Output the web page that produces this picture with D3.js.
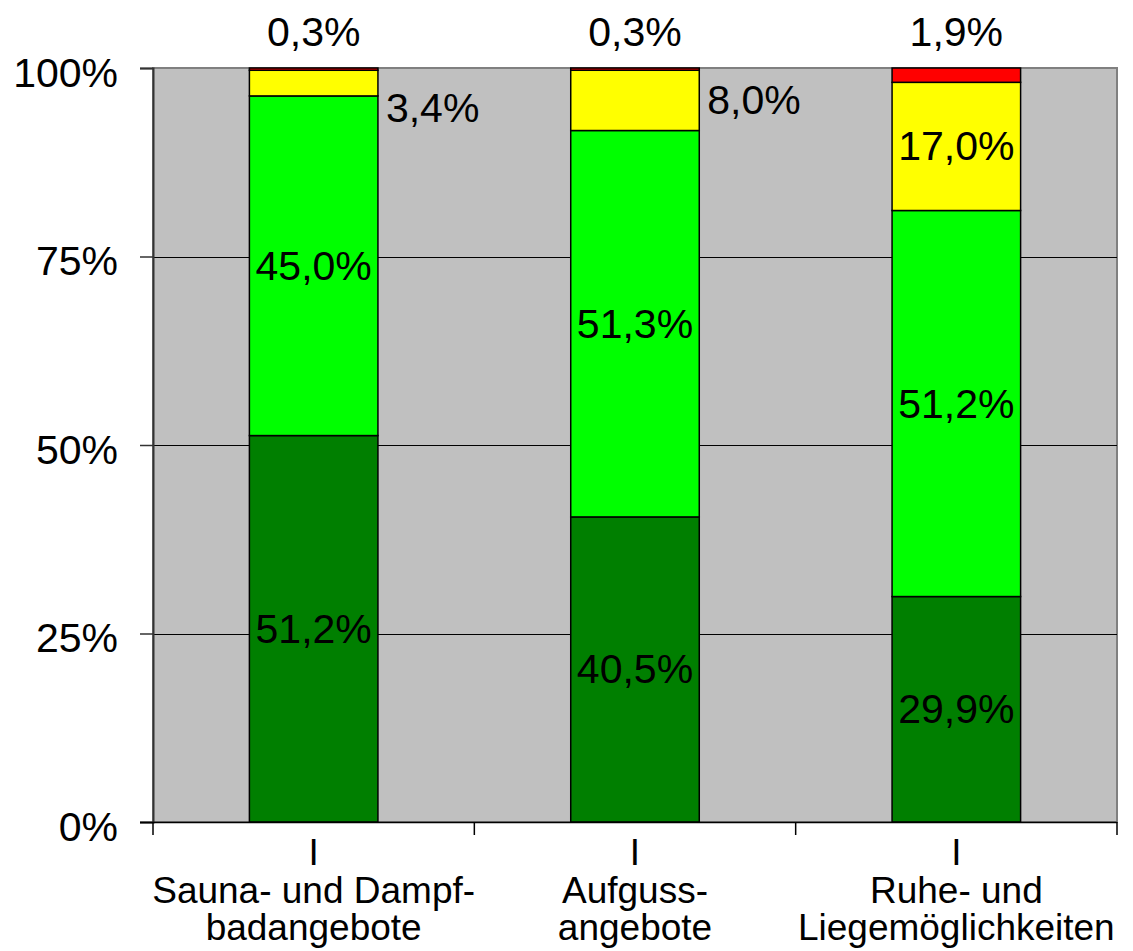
<!DOCTYPE html>
<html>
<head>
<meta charset="utf-8">
<script src="https://cdn.jsdelivr.net/npm/d3@7"></script>
<style>
  body { margin: 0; background: #fff; }
  text { font-family: "Liberation Sans", Arial, sans-serif; fill: #000; }
</style>
</head>
<body>
<svg id="chart" width="1133" height="951"></svg>
<script>
// categories (each label split into lines)
const categories = ["Sauna- und Dampfbadangebote", "Aufgussangebote", "Ruhe- und Liegemöglichkeiten"];
const categoryLines = [
  ["I", "Sauna- und Dampf-", "badangebote"],
  ["I", "Aufguss-", "angebote"],
  ["I", "Ruhe- und", "Liegemöglichkeiten"]
];
// series values, bottom to top
const seriesNames = ["sehr gut", "gut", "weniger gut", "schlecht"];
const seriesColors = ["#007f00", "#00ff00", "#ffff00", "#ff0000"];
const sehrGut = [51.2, 40.5, 29.9];
const gut = [45.0, 51.3, 51.2];
const wenigerGut = [3.4, 8.0, 17.0];
const schlecht = [0.3, 0.3, 1.9];
const yTicks = [0, 25, 50, 75, 100];

const svg = d3.select("#chart");
const pLeft = 153, pRight = 1117, pTop = 68, pBottom = 822;
const labelSize = 41;

const x = d3.scaleBand().domain(categories).range([pLeft, pRight]).paddingInner(0.6).paddingOuter(0.3);
const y = d3.scaleLinear().domain([0, 100]).range([pBottom, pTop]);

// stacked table, normalised to 100 %
const table = categories.map((c, i) => {
  const row = { cat: c, i };
  const vals = [sehrGut[i], gut[i], wenigerGut[i], schlecht[i]];
  const sum = d3.sum(vals);
  seriesNames.forEach((s, k) => { row[s] = vals[k] / sum * 100; row[s + "_raw"] = vals[k]; });
  return row;
});
const stack = d3.stack().keys(seriesNames)(table);

// plot background
svg.append("rect").attr("x", pLeft).attr("y", pTop).attr("width", pRight - pLeft).attr("height", pBottom - pTop)
  .attr("fill", "#c0c0c0").attr("stroke", "#808080").attr("stroke-width", 2);

// gridlines
svg.append("g").selectAll("line").data(yTicks.filter(t => t > 0 && t < 100)).join("line")
  .attr("x1", pLeft).attr("x2", pRight).attr("y1", d => Math.round(y(d)) + 0.5).attr("y2", d => Math.round(y(d)) + 0.5)
  .attr("stroke", "#000").attr("stroke-width", 1);

// bars
const fmt = v => v.toFixed(1).replace(".", ",") + "%";
stack.forEach((layer, k) => {
  svg.append("g").selectAll("rect").data(layer).join("rect")
    .attr("x", d => x(d.data.cat))
    .attr("width", x.bandwidth())
    .attr("y", d => y(d[1]))
    .attr("height", d => y(d[0]) - y(d[1]))
    .attr("fill", seriesColors[k])
    .attr("stroke", "#000").attr("stroke-width", 1.5);
});

// y axis
const yAxis = svg.append("g").attr("transform", `translate(${pLeft},0)`)
  .call(d3.axisLeft(y).tickValues(yTicks).tickSize(13).tickPadding(22).tickFormat(d => d + "%"));
yAxis.select(".domain").attr("stroke", "#333").attr("stroke-width", 2);
yAxis.selectAll(".tick line").attr("stroke", "#333").attr("stroke-width", 1.5);
yAxis.selectAll("text").attr("font-size", labelSize).attr("dy", "0.45em")
  .attr("font-family", "Liberation Sans, Arial, sans-serif").attr("fill", "#000");

// x axis line with ticks between categories
const sep = d3.range(categories.length + 1).map(i => pLeft + i * (pRight - pLeft) / categories.length);
svg.append("line").attr("x1", pLeft - 13).attr("x2", pRight).attr("y1", pBottom + 0.5).attr("y2", pBottom + 0.5)
  .attr("stroke", "#000").attr("stroke-width", 1.5);
svg.append("g").selectAll("line").data(sep).join("line")
  .attr("x1", d => d).attr("x2", d => d).attr("y1", pBottom).attr("y2", pBottom + 13)
  .attr("stroke", "#000").attr("stroke-width", 1.5);

// category labels
categories.forEach((c, i) => {
  const cx = x(c) + x.bandwidth() / 2;
  const t = svg.append("text").attr("text-anchor", "middle").attr("font-size", 37);
  categoryLines[i].forEach((line, j) => {
    t.append("tspan").attr("x", cx).attr("y", 865 + (j === 0 ? 0 : 38 + (j - 1) * 37)).text(line);
  });
});

// value labels
stack.forEach((layer, k) => {
  layer.forEach(d => {
    const raw = d.data[seriesNames[k] + "_raw"];
    const cx = x(d.data.cat) + x.bandwidth() / 2;
    const mid = (y(d[0]) + y(d[1])) / 2;
    const h = y(d[0]) - y(d[1]);
    let tx = cx, ty = mid + 14, anchor = "middle";
    if (k === seriesNames.length - 1 && raw < 5) {
      // thin top segment: label above the plot
      ty = pTop - 22;
    } else if (raw < 10) {
      // small segment: label to the right of the bar; very thin ones pushed down
      tx = x(d.data.cat) + x.bandwidth() + 8; anchor = "start";
      ty = (h < 30 ? pTop + 40 : mid) + 14;
    }
    svg.append("text").attr("x", tx).attr("y", ty).attr("text-anchor", anchor)
      .attr("font-size", labelSize).text(fmt(raw));
  });
});
</script>
</body>
</html>
